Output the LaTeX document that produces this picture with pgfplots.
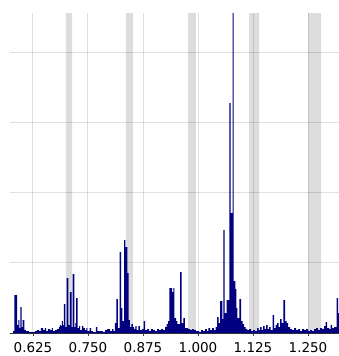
\documentclass[border=0pt]{standalone}
\usepackage{fontspec}
\usepackage{pgfplots}
\pgfplotsset{compat=1.18}
\newfontfamily\dejavu{DejaVu Sans}
\definecolor{barc}{HTML}{000080}
\begin{document}
\begin{tikzpicture}
\begin{axis}[
  name=ax,
  width=329bp, height=320bp, scale only axis,
  xmin=0.57273, xmax=1.32045, ymin=0, ymax=320,
  axis lines*=left,
  y axis line style={draw=none},
  x axis line style={draw=black!80, line width=0.8bp},
  xtick={0.625,0.75,0.875,1.0,1.125,1.25},
  xticklabels={0.625,0.750,0.875,1.000,1.125,1.250},
  ytick={70.25,140.5,210.75,281},
  yticklabels={},
  ytick style={draw=none},
  xtick style={draw=black!75, line width=0.8bp},
  tick align=outside,
  major tick length=3bp,
  xmajorgrids, ymajorgrids,
  grid style={draw=black, draw opacity=0.12, line width=1bp},
  xticklabel style={font=\dejavu\fontsize{13.5bp}{16bp}\selectfont, text=black, yshift=-3bp},
  clip=true,
]
% shaded bands
\addplot[forget plot, draw=none, fill=black, fill opacity=0.135] coordinates {(0.70000,0) (0.70000,320) (0.71364,320) (0.71364,0)} \closedcycle;
\addplot[forget plot, draw=none, fill=black, fill opacity=0.135] coordinates {(0.83636,0) (0.83636,320) (0.85227,320) (0.85227,0)} \closedcycle;
\addplot[forget plot, draw=none, fill=black, fill opacity=0.135] coordinates {(0.97727,0) (0.97727,320) (0.99545,320) (0.99545,0)} \closedcycle;
\addplot[forget plot, draw=none, fill=black, fill opacity=0.135] coordinates {(1.11591,0) (1.11591,320) (1.13864,320) (1.13864,0)} \closedcycle;
\addplot[forget plot, draw=none, fill=black, fill opacity=0.135] coordinates {(1.25000,0) (1.25000,320) (1.27955,320) (1.27955,0)} \closedcycle;
% spectrum
\addplot[const plot, draw=none, fill=barc] coordinates {
(0.57273,0) (0.57955,2) (0.58250,38) (0.58864,8) (0.59159,13) (0.59432,5)
(0.59614,26) (0.59932,6) (0.60159,13) (0.60523,3) (0.60909,2) (0.61591,1)
(0.62500,1) (0.62955,2) (0.63409,3) (0.63864,2) (0.64318,5) (0.64773,3)
(0.65227,5) (0.65455,2) (0.65909,4) (0.66364,3) (0.66818,5) (0.67045,2)
(0.67500,3) (0.67955,4) (0.68409,6) (0.68636,8) (0.68864,7) (0.69091,12)
(0.69318,8) (0.69545,29) (0.69841,6) (0.70159,55) (0.70523,8) (0.70909,41)
(0.71295,6) (0.71523,59) (0.71886,6) (0.72114,10) (0.72273,35) (0.72614,5)
(0.72955,7) (0.73182,3) (0.73636,7) (0.73977,5) (0.74318,3) (0.74659,5)
(0.74886,2) (0.75341,5) (0.75682,2) (0.76136,1) (0.76818,6) (0.77114,2)
(0.77727,2) (0.78409,1) (0.78864,3) (0.79318,4) (0.80000,2) (0.80455,4)
(0.80795,2) (0.81136,10) (0.81477,34) (0.81818,5) (0.82205,81) (0.82500,25)
(0.82795,12) (0.83182,93) (0.83477,86) (0.83932,60) (0.84250,13) (0.84545,6)
(0.84886,9) (0.85227,6) (0.85455,4) (0.85795,7) (0.86068,3) (0.86477,7)
(0.86818,3) (0.87273,4) (0.87614,12) (0.87955,3) (0.88409,4) (0.88864,2)
(0.89318,4) (0.89773,3) (0.90227,2) (0.90682,4) (0.91136,3) (0.91591,4)
(0.92045,3) (0.92500,6) (0.92886,9) (0.93182,12) (0.93477,45) (0.94091,41)
(0.94386,45) (0.94614,15) (0.95000,12) (0.95295,9) (0.95909,61) (0.96295,10)
(0.96659,15) (0.97045,5) (0.97727,4) (0.98182,3) (0.98636,4) (0.99091,3)
(0.99545,2) (1.00227,1) (1.00682,3) (1.01136,2) (1.01591,4) (1.02045,2)
(1.02386,5) (1.02727,3) (1.03182,5) (1.03636,3) (1.03977,6) (1.04318,16)
(1.04659,10) (1.05000,32) (1.05523,14) (1.05750,103) (1.06068,20) (1.06523,33)
(1.07114,230) (1.07432,120) (1.07841,320) (1.08114,52) (1.08477,44) (1.08705,25)
(1.08932,15) (1.09386,34) (1.09773,12) (1.10114,9) (1.10455,6) (1.10795,4)
(1.11136,3) (1.11591,4) (1.12045,2) (1.12500,3) (1.12955,2) (1.13409,5)
(1.13750,3) (1.14091,6) (1.14432,3) (1.14773,7) (1.15114,4) (1.15455,8)
(1.15795,4) (1.16136,6) (1.16477,3) (1.16932,18) (1.17273,5) (1.17614,8)
(1.17955,10) (1.18295,6) (1.18636,14) (1.18977,10) (1.19386,33) (1.19773,12)
(1.20114,10) (1.20455,6) (1.20909,4) (1.21364,3) (1.21818,5) (1.22273,3)
(1.22727,4) (1.23182,2) (1.23636,4) (1.24091,3) (1.24545,4) (1.25000,2)
(1.25455,3) (1.25909,2) (1.26364,4) (1.26818,5) (1.27273,3) (1.27727,5)
(1.28182,4) (1.28636,7) (1.28977,11) (1.29318,5) (1.29773,4) (1.30114,8)
(1.30455,5) (1.30909,6) (1.31477,35) (1.31818,20) (1.32045,20)
} \closedcycle;
\end{axis}
\pgfresetboundingbox
\path[use as bounding box] ([xshift=-10bp,yshift=-23bp]ax.south west) rectangle ([yshift=13bp]ax.north east);
\end{tikzpicture}
\end{document}
